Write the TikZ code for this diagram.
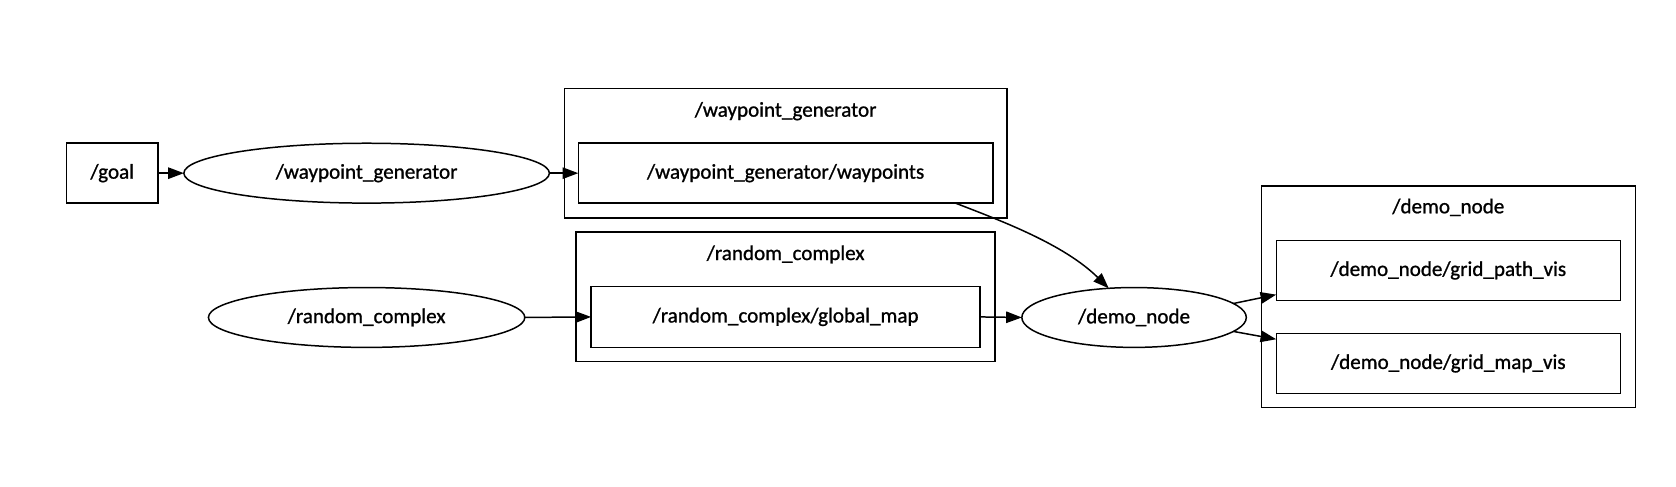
\documentclass[tikz,border=0pt]{standalone}
\usepackage{fontspec}
\setmainfont{Carlito}[FakeBold=1]
\usetikzlibrary{arrows.meta,shapes.geometric}
\begin{document}
\begin{tikzpicture}[x=0.75pt,y=-0.75pt,
  font=\fontsize{14.8}{16}\selectfont,
  every node/.style={inner sep=0pt, outer sep=0pt, line width=1.05pt},
  sz/.style 2 args={minimum width=#1*0.75pt, minimum height=#2*0.75pt},
  box/.style={draw, rectangle},
  ell/.style={draw, ellipse},
  arr/.style={draw, line width=1.05pt, -{Triangle[length=11pt,width=8pt]}}]
\useasboundingbox (0,0) rectangle (1568,455);
% clusters
\node[box, sz={414}{121}] (cwg) at (735,143.5) {};
\node[anchor=center] (cwgl) at (735,104) {/waypoint\_generator};
\node[box, sz={392}{121}] (crc) at (735,277.5) {};
\node[anchor=center] (crcl) at (735,238) {/random\_complex};
\node[box, sz={350}{207}] (cdn) at (1355,277.5) {};
\node[anchor=center] (cdnl) at (1355,194) {/demo\_node};
% nodes
\node[box, sz={86}{56}] (goal) at (105,162) {/goal};
\node[ell, sz={342}{56}] (wg) at (343,162) {/waypoint\_generator};
\node[box, sz={388}{56}] (wpt) at (735,162) {/waypoint\_generator/waypoints};
\node[ell, sz={296}{56}] (rc) at (343,297) {/random\_complex};
\node[box, sz={364}{57}] (gm) at (735,296.5) {/random\_complex/global\_map};
\node[ell, sz={210}{56}] (demo) at (1061,297) {/demo\_node};
\node[box, sz={322}{56}] (gpv) at (1355,253) {/demo\_node/grid\_path\_vis};
\node[box, sz={322}{56}] (gmv) at (1355,340) {/demo\_node/grid\_map\_vis};
% edges
\draw[arr] (goal.east) -- (wg.west);
\draw[arr] (wg.east) -- (wpt.west);
\draw[arr] (rc.east) -- (gm.west);
\draw[arr] (gm.east) -- (demo.west);
\draw[arr] (wpt.-10.2) .. controls (935,206) and (995,228) .. (demo.131);
\draw[arr] (demo.8) -- (gpv.188);
\draw[arr] (demo.-8) -- (gmv.172);
\end{tikzpicture}
\end{document}
